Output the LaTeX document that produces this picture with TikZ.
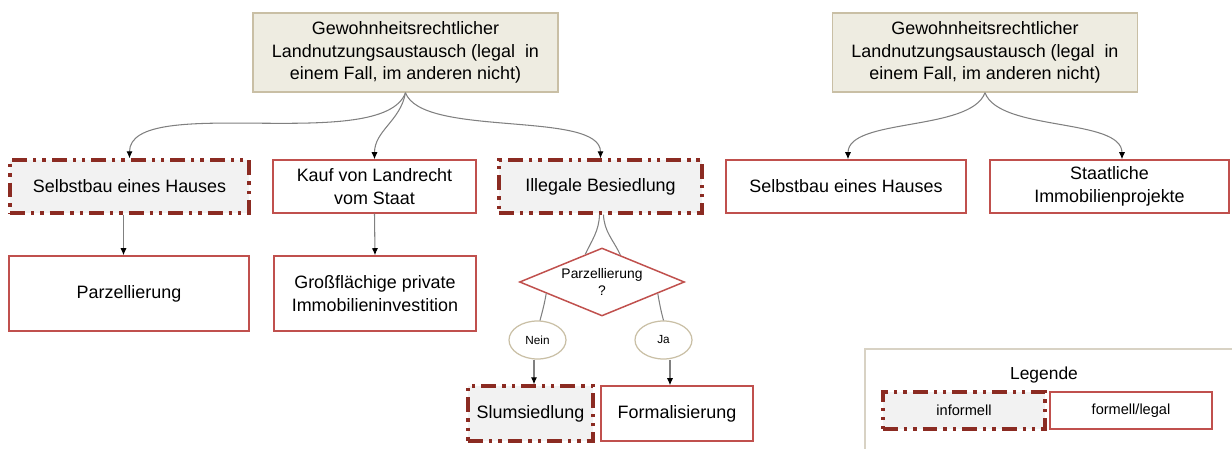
\documentclass[tikz,border=0pt]{standalone}
\usepackage{fontspec}
\setmainfont{Liberation Sans}
\usetikzlibrary{shapes.geometric}
\usetikzlibrary{arrows.meta}
\usetikzlibrary{calc}
\definecolor{beige}{HTML}{EEECE1}
\definecolor{sand}{HTML}{C9BFA5}
\definecolor{dunkelrot}{HTML}{8B2B22}
\definecolor{ziegel}{HTML}{C0504D}
\definecolor{hellgrau}{HTML}{F2F2F2}
\definecolor{linie}{HTML}{808080}
\definecolor{rahmen}{HTML}{D8D2C4}

\begin{document}
\begin{tikzpicture}[x=0.02cm, y=-0.02cm,
	every node/.style={font=\fontsize{10.2}{12.9}\selectfont, align=center, inner sep=0pt},
	kopf/.style={draw=sand, line width=0.8pt, fill=beige, minimum width=6.1cm, minimum height=1.58cm},
	informell/.style={draw=dunkelrot, line width=1.9pt, fill=hellgrau, minimum height=1.06cm,
		dash pattern=on 8.5pt off 3.4pt on 1.9pt off 3.4pt on 1.9pt off 3.4pt},
	formell/.style={draw=ziegel, line width=0.85pt, fill=white, minimum height=1.06cm},
	frage/.style={diamond, aspect=2.43, draw=ziegel, line width=0.85pt, minimum width=3.3cm, minimum height=1.36cm,
		font=\fontsize{7.9}{10}\selectfont},
	antwort/.style={ellipse, draw=sand, line width=0.7pt, minimum width=1.14cm, minimum height=0.76cm,
		font=\fontsize{6.7}{8}\selectfont},
	pfeil/.style={draw=linie, line width=0.6pt, -{Latex[length=4pt,width=3.5pt,black]}},
	ast/.style={draw=linie, line width=0.6pt}]
	% 1232 x 449 px
	\useasboundingbox (0,0) rectangle (1232,449);
	% left tree
	\node[kopf] (kopfL) at (405.5,52.5) {Gewohnheitsrechtlicher\\Landnutzungsaustausch (legal~ in\\einem Fall, im anderen nicht)};
	\node[informell, minimum width=4.78cm] (selbstL) at (129.5,186.5) {Selbstbau eines Hauses};
	\node[formell, minimum width=4.06cm] (kauf) at (374.5,186.5) {Kauf von Landrecht\\vom Staat};
	\node[informell, minimum width=4.06cm] (illegal) at (600.5,186.5) {Illegale Besiedlung};
	\node[formell, minimum width=4.8cm, minimum height=1.5cm] (parz) at (129,293.5) {Parzellierung};
	\node[formell, minimum width=4.04cm, minimum height=1.5cm] (gross) at (375,293.5) {Großflächige private\\Immobilieninvestition};
	% decision
	\node[frage] (parzfrage) at (602,282) {Parzellierung\\?};
	\node[antwort] (nein) at (537.5,340) {Nein};
	\node[antwort] (ja) at (663.5,340) {Ja};
	\node[informell, minimum width=2.5cm, minimum height=1.1cm] (slum) at (530.5,413.5) {Slumsiedlung};
	\node[formell, minimum width=3.04cm, minimum height=1.1cm] (formal) at (677,413.5) {Formalisierung};
	% right tree
	\node[kopf] (kopfR) at (985,52.5) {Gewohnheitsrechtlicher\\Landnutzungsaustausch (legal~ in\\einem Fall, im anderen nicht)};
	\node[formell, minimum width=4.8cm] (selbstR) at (846,186.5) {Selbstbau eines Hauses};
	\node[formell, minimum width=4.78cm] (staat) at (1109.5,186.5) {Staatliche\\Immobilienprojekte};
	% connectors
	\draw[pfeil] (kopfL.south) to[out=-110, in=90, looseness=0.6] (selbstL.north);
	\draw[pfeil] (kopfL.south) to[out=-100, in=90] (kauf.north);
	\draw[pfeil] (kopfL.south) to[out=-70, in=90, looseness=0.6] (illegal.north);
	\draw[pfeil] ([xshift=-0.12cm]selbstL.south) -- ([xshift=-0.12cm]selbstL.south |- parz.north);
	\draw[pfeil] (kauf.south) -- (gross.north);
	\draw[ast] ([xshift=-0.02cm]illegal.south) to[out=-92, in=65] ($(parzfrage.north)!0.2!(parzfrage.west)$);
	\draw[ast] ([xshift=0.06cm]illegal.south) to[out=-88, in=115] ($(parzfrage.north)!0.22!(parzfrage.east)$);
	\draw[ast] ($(parzfrage.west)!0.33!(parzfrage.south)$) to[out=-100, in=75] ([xshift=0.05cm]nein.north);
	\draw[ast] ($(parzfrage.east)!0.33!(parzfrage.south)$) to[out=-80, in=105] (ja.north);
	\draw[pfeil] ([xshift=-0.07cm]nein.south) -- ([xshift=-0.07cm]nein.south |- slum.north);
	\draw[pfeil] ([xshift=0.13cm]ja.south) -- ([xshift=0.13cm]ja.south |- formal.north);
	\draw[pfeil] (kopfR.south) to[out=-110, in=90, looseness=0.7] ([xshift=0.04cm]selbstR.north);
	\draw[pfeil] (kopfR.south) to[out=-70, in=90, looseness=0.7] ([xshift=0.25cm]staat.north);
	% legend
	\draw[rahmen, line width=0.8pt] (865,449) -- (865,349) -- (1232,349);
	\node[font=\fontsize{9.9}{12}\selectfont] (legende) at (1044,375) {Legende};
	\node[informell, minimum width=3.24cm, minimum height=0.74cm, font=\fontsize{8.3}{10}\selectfont] (leginf) at (964,410.5) {informell};
	\node[formell, minimum width=3.24cm, minimum height=0.74cm, font=\fontsize{8.3}{10}\selectfont] (legform) at (1131,410.5) {formell/legal};
\end{tikzpicture}
\end{document}
